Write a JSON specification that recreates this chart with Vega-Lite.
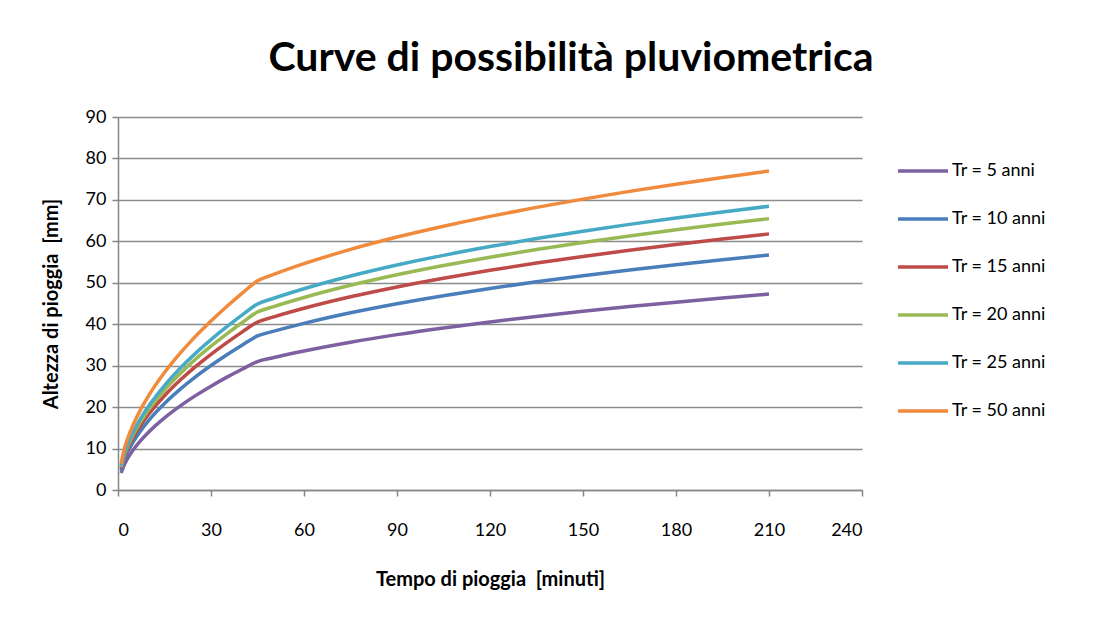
{
  "$schema": "https://vega.github.io/schema/vega-lite/v6.json",
  "width": 744,
  "height": 373,
  "autosize": {"type": "none"},
  "padding": {"left": 118, "top": 117, "right": 240, "bottom": 138},
  "background": "white",
  "title": {
    "text": "Curve di possibilità pluviometrica",
    "font": "Lato",
    "fontSize": 41,
    "fontWeight": "bold",
    "color": "black",
    "anchor": "middle",
    "dx": 81,
    "offset": 28
  },
  "data": {
    "values": [
      {"t": 1, "Tr = 5 anni": 4.1, "Tr = 10 anni": 4.8, "Tr = 15 anni": 5.2, "Tr = 20 anni": 5.5, "Tr = 25 anni": 5.8, "Tr = 50 anni": 6.3},
      {"t": 2, "Tr = 5 anni": 6.05, "Tr = 10 anni": 7.25, "Tr = 15 anni": 7.91, "Tr = 20 anni": 8.38, "Tr = 25 anni": 8.76, "Tr = 50 anni": 9.85},
      {"t": 3, "Tr = 5 anni": 7.48, "Tr = 10 anni": 8.97, "Tr = 15 anni": 9.78, "Tr = 20 anni": 10.36, "Tr = 25 anni": 10.83, "Tr = 50 anni": 12.18},
      {"t": 5, "Tr = 5 anni": 9.78, "Tr = 10 anni": 11.73, "Tr = 15 anni": 12.78, "Tr = 20 anni": 13.55, "Tr = 25 anni": 14.16, "Tr = 50 anni": 15.92},
      {"t": 7.5, "Tr = 5 anni": 12.1, "Tr = 10 anni": 14.51, "Tr = 15 anni": 15.81, "Tr = 20 anni": 16.76, "Tr = 25 anni": 17.52, "Tr = 50 anni": 19.7},
      {"t": 10, "Tr = 5 anni": 14.07, "Tr = 10 anni": 16.87, "Tr = 15 anni": 18.39, "Tr = 20 anni": 19.49, "Tr = 25 anni": 20.37, "Tr = 50 anni": 22.91},
      {"t": 15, "Tr = 5 anni": 17.41, "Tr = 10 anni": 20.87, "Tr = 15 anni": 22.75, "Tr = 20 anni": 24.11, "Tr = 25 anni": 25.21, "Tr = 50 anni": 28.34},
      {"t": 20, "Tr = 5 anni": 20.25, "Tr = 10 anni": 24.28, "Tr = 15 anni": 26.47, "Tr = 20 anni": 28.05, "Tr = 25 anni": 29.32, "Tr = 50 anni": 32.97},
      {"t": 25, "Tr = 5 anni": 22.77, "Tr = 10 anni": 27.3, "Tr = 15 anni": 29.76, "Tr = 20 anni": 31.54, "Tr = 25 anni": 32.97, "Tr = 50 anni": 37.07},
      {"t": 30, "Tr = 5 anni": 25.05, "Tr = 10 anni": 30.03, "Tr = 15 anni": 32.74, "Tr = 20 anni": 34.69, "Tr = 25 anni": 36.27, "Tr = 50 anni": 40.78},
      {"t": 35, "Tr = 5 anni": 27.17, "Tr = 10 anni": 32.58, "Tr = 15 anni": 35.51, "Tr = 20 anni": 37.63, "Tr = 25 anni": 39.34, "Tr = 50 anni": 44.23},
      {"t": 40, "Tr = 5 anni": 29.14, "Tr = 10 anni": 34.94, "Tr = 15 anni": 38.09, "Tr = 20 anni": 40.36, "Tr = 25 anni": 42.19, "Tr = 50 anni": 47.44},
      {"t": 45, "Tr = 5 anni": 31.0, "Tr = 10 anni": 37.17, "Tr = 15 anni": 40.52, "Tr = 20 anni": 42.94, "Tr = 25 anni": 44.89, "Tr = 50 anni": 50.47},
      {"t": 50, "Tr = 5 anni": 31.91, "Tr = 10 anni": 38.26, "Tr = 15 anni": 41.71, "Tr = 20 anni": 44.2, "Tr = 25 anni": 46.21, "Tr = 50 anni": 51.95},
      {"t": 60, "Tr = 5 anni": 33.54, "Tr = 10 anni": 40.21, "Tr = 15 anni": 43.84, "Tr = 20 anni": 46.45, "Tr = 25 anni": 48.57, "Tr = 50 anni": 54.6},
      {"t": 75, "Tr = 5 anni": 35.66, "Tr = 10 anni": 42.76, "Tr = 15 anni": 46.61, "Tr = 20 anni": 49.39, "Tr = 25 anni": 51.64, "Tr = 50 anni": 58.05},
      {"t": 90, "Tr = 5 anni": 37.49, "Tr = 10 anni": 44.95, "Tr = 15 anni": 49.0, "Tr = 20 anni": 51.92, "Tr = 25 anni": 54.29, "Tr = 50 anni": 61.03},
      {"t": 105, "Tr = 5 anni": 39.1, "Tr = 10 anni": 46.88, "Tr = 15 anni": 51.1, "Tr = 20 anni": 54.15, "Tr = 25 anni": 56.62, "Tr = 50 anni": 63.65},
      {"t": 120, "Tr = 5 anni": 40.56, "Tr = 10 anni": 48.63, "Tr = 15 anni": 53.01, "Tr = 20 anni": 56.18, "Tr = 25 anni": 58.73, "Tr = 50 anni": 66.03},
      {"t": 135, "Tr = 5 anni": 41.89, "Tr = 10 anni": 50.23, "Tr = 15 anni": 54.75, "Tr = 20 anni": 58.02, "Tr = 25 anni": 60.66, "Tr = 50 anni": 68.2},
      {"t": 150, "Tr = 5 anni": 43.11, "Tr = 10 anni": 51.69, "Tr = 15 anni": 56.34, "Tr = 20 anni": 59.71, "Tr = 25 anni": 62.42, "Tr = 50 anni": 70.18},
      {"t": 165, "Tr = 5 anni": 44.26, "Tr = 10 anni": 53.07, "Tr = 15 anni": 57.85, "Tr = 20 anni": 61.3, "Tr = 25 anni": 64.09, "Tr = 50 anni": 72.05},
      {"t": 180, "Tr = 5 anni": 45.32, "Tr = 10 anni": 54.34, "Tr = 15 anni": 59.23, "Tr = 20 anni": 62.77, "Tr = 25 anni": 65.62, "Tr = 50 anni": 73.78},
      {"t": 195, "Tr = 5 anni": 46.33, "Tr = 10 anni": 55.55, "Tr = 15 anni": 60.55, "Tr = 20 anni": 64.17, "Tr = 25 anni": 67.09, "Tr = 50 anni": 75.42},
      {"t": 210, "Tr = 5 anni": 47.28, "Tr = 10 anni": 56.69, "Tr = 15 anni": 61.8, "Tr = 20 anni": 65.48, "Tr = 25 anni": 68.46, "Tr = 50 anni": 76.97}
    ]
  },
  "transform": [
    {"fold": ["Tr = 5 anni", "Tr = 10 anni", "Tr = 15 anni", "Tr = 20 anni", "Tr = 25 anni", "Tr = 50 anni"], "as": ["serie", "h"]}
  ],
  "mark": {"type": "line", "strokeWidth": 3.5, "interpolate": "monotone"},
  "encoding": {
    "x": {
      "field": "t", "type": "quantitative",
      "scale": {"domain": [0, 240], "nice": false},
      "axis": {
        "values": [0, 30, 60, 90, 120, 150, 180, 210, 240],
        "title": "Tempo di pioggia \u00a0[minuti]",
        "grid": false,
        "domainColor": "#868686", "domainWidth": 1.5,
        "tickColor": "#868686", "tickWidth": 1.5, "tickSize": 6,
        "labelFont": "Lato", "labelFontSize": 18, "labelColor": "black", "labelPadding": 25,
        "titleFont": "Lato", "titleFontSize": 20, "titleFontWeight": "bold", "titleColor": "black", "titlePadding": 30
      }
    },
    "y": {
      "field": "h", "type": "quantitative",
      "scale": {"domain": [0, 90], "nice": false},
      "axis": {
        "values": [0, 10, 20, 30, 40, 50, 60, 70, 80, 90],
        "title": "Altezza di pioggia \u00a0[mm]",
        "grid": true, "gridColor": "#8c8c8c", "gridWidth": 1.5,
        "domainColor": "#868686", "domainWidth": 1.5,
        "tickColor": "#868686", "tickWidth": 1.5, "tickSize": 6,
        "labelFont": "Lato", "labelFontSize": 18, "labelColor": "black", "labelPadding": 6,
        "titleFont": "Lato", "titleFontSize": 20, "titleFontWeight": "bold", "titleColor": "black", "titlePadding": 24
      }
    },
    "color": {
      "field": "serie", "type": "nominal",
      "scale": {
        "domain": ["Tr = 5 anni", "Tr = 10 anni", "Tr = 15 anni", "Tr = 20 anni", "Tr = 25 anni", "Tr = 50 anni"],
        "range": ["#7D60A0", "#4A7EBB", "#BE4B48", "#98B954", "#46AAC5", "#F08A3C"]
      },
      "legend": {
        "title": null,
        "orient": "none",
        "legendX": 778,
        "legendY": 27,
        "symbolType": "stroke",
        "symbolSize": 2500,
        "symbolStrokeWidth": 3.5,
        "labelFont": "Lato", "labelFontSize": 18, "labelColor": "black",
        "labelOffset": 2,
        "rowPadding": 12
      }
    }
  },
  "config": {"view": {"stroke": null}}
}
